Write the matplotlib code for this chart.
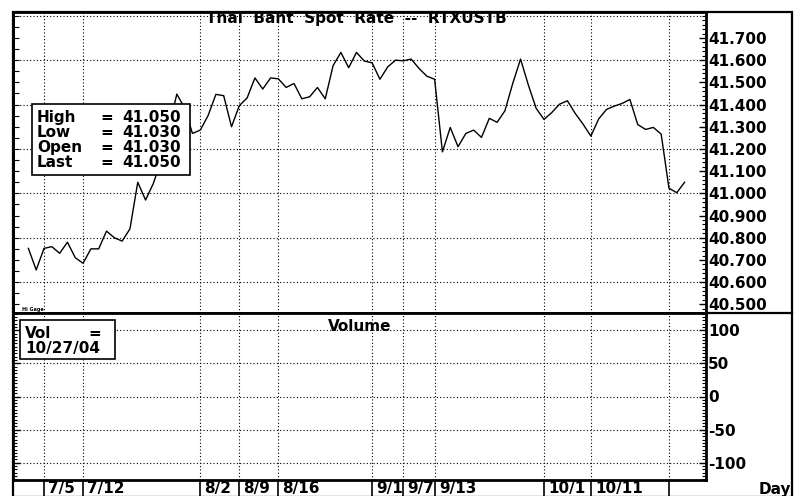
import matplotlib
matplotlib.use("Agg")
import matplotlib.pyplot as plt
import matplotlib.patches as mpatches
import matplotlib.lines as mlines
from matplotlib.ticker import MultipleLocator, FixedLocator
from matplotlib.transforms import ScaledTranslation
import numpy as np
import pandas as pd

plt.rcParams['font.family'] = ['DejaVu Sans']
plt.rcParams['axes.unicode_minus'] = False

# ---------------- data ----------------
start_date = "2004-07-01"
end_date = "2004-10-27"
prices = [40.752, 40.655, 40.752, 40.760, 40.730, 40.780, 40.710, 40.685, 40.750, 40.750,
          40.830, 40.800, 40.785, 40.840, 41.050, 40.970, 41.045, 41.150, 41.300, 41.447,
          41.385, 41.270, 41.285, 41.350, 41.446, 41.440, 41.300, 41.395, 41.430, 41.520,
          41.470, 41.520, 41.516, 41.477, 41.495, 41.426, 41.435, 41.477, 41.426, 41.575,
          41.635, 41.566, 41.635, 41.596, 41.588, 41.514, 41.570, 41.600, 41.597, 41.605,
          41.563, 41.528, 41.514, 41.187, 41.297, 41.210, 41.270, 41.285, 41.252, 41.338,
          41.320, 41.372, 41.495, 41.605, 41.488, 41.383, 41.333, 41.364, 41.402, 41.417,
          41.360, 41.312, 41.258, 41.335, 41.378, 41.393, 41.405, 41.423, 41.310, 41.288,
          41.297, 41.267, 41.023, 41.003, 41.050]
tick_dates = ["2004-07-05", "2004-07-12", "2004-08-02", "2004-08-09", "2004-08-16",
              "2004-09-01", "2004-09-07", "2004-09-13", "2004-10-01", "2004-10-11", "2004-10-25"]
tick_labels = ["7/5", "7/12", "8/2", "8/9", "8/16", "9/1", "9/7", "9/13", "10/1", "10/11", ""]
price_labels = [40.5, 40.6, 40.7, 40.8, 40.9, 41.0, 41.1, 41.2, 41.3, 41.4, 41.5, 41.6, 41.7]
price_grid = [40.6, 40.8, 41.0, 41.2, 41.4, 41.6, 41.8]
vol_ticks = [-100, -50, 0, 50, 100]
info_names = ["High", "Low", "Open", "Last"]
info_values = ["41.050", "41.030", "41.030", "41.050"]
title = "Thai  Baht  Spot  Rate  --  RTXUSTB"

days = pd.bdate_range(start_date, end_date)
x = np.arange(len(days))
tick_pos = [days.get_loc(pd.Timestamp(d)) for d in tick_dates]

# ---------------- layout ----------------
W, H = 798, 496
fig = plt.figure(figsize=(W / 100, H / 100), dpi=100)
fig.patch.set_facecolor("white")

def fx(px):
    return px / W

def fy(py):
    return 1 - py / H

def rect(l, t, r, b):
    return [l / W, 1 - b / H, (r - l) / W, (b - t) / H]

ax1 = fig.add_axes(rect(13, 12, 706, 313))
ax2 = fig.add_axes(rect(13, 313, 706, 480))

xlim = (-1.97, 86.74)
grid_kw = dict(color="black", linestyle=(0, (1, 2)), linewidth=0.8)
fs = 11

# price panel
ax1.plot(x, prices, color="black", linewidth=1.0, zorder=3)
ax1.set_xlim(*xlim)
ax1.set_ylim(40.461, 41.817)
ax1.hlines(price_grid, xlim[0], xlim[1], **grid_kw, zorder=1)
ax1.set_xticks(tick_pos)
ax1.grid(True, axis="x", **grid_kw)
ax1.tick_params(axis="x", length=0, labelbottom=False)
ax1.yaxis.tick_right()
ax1.yaxis.set_major_locator(FixedLocator(price_labels))
ax1.yaxis.set_minor_locator(MultipleLocator(0.02))
ax1.set_yticklabels([f"{v:.3f}" for v in price_labels], fontsize=fs, fontweight="bold")
ax1.tick_params(axis="y", which="major", direction="in", length=5, width=1, pad=1.5)
ax1.tick_params(axis="y", which="minor", direction="in", length=3, width=0.8)
sec = ax1.secondary_yaxis("left")
sec.yaxis.set_major_locator(MultipleLocator(0.05))
sec.tick_params(direction="in", length=4, width=0.8, labelleft=False)
sec.spines["left"].set_linewidth(2)
for sp in ax1.spines.values():
    sp.set_linewidth(2)

# volume panel
ax2.set_xlim(*xlim)
ax2.set_ylim(-126, 126)
ax2.set_xticks(tick_pos, tick_labels)
ax2.grid(True, axis="both", which="major", **grid_kw)
ax2.yaxis.set_major_locator(FixedLocator(vol_ticks))
ax2.yaxis.set_minor_locator(MultipleLocator(5))
ax2.set_yticklabels([str(v) for v in vol_ticks], fontsize=fs, fontweight="bold")
ax2.tick_params(axis="y", which="major", direction="in", length=5, width=1, pad=1.5,
                left=True, right=True, labelleft=False, labelright=True)
ax2.tick_params(axis="y", which="minor", direction="in", length=3, width=0.8,
                left=True, right=True)
ax2.tick_params(axis="x", direction="out", length=12, width=1.2, pad=-11)
offset = ScaledTranslation(3 / 72, 0, fig.dpi_scale_trans)
for lbl in ax2.get_xticklabels():
    lbl.set_horizontalalignment("left")
    lbl.set_fontweight("bold")
    lbl.set_fontsize(fs)
    lbl.set_transform(lbl.get_transform() + offset)
for sp in ax2.spines.values():
    sp.set_linewidth(2)

# outer frame
fig.add_artist(mpatches.Rectangle((fx(13), fy(497)), (792 - 13) / W, (497 - 12) / H,
                                  transform=fig.transFigure, fill=False, lw=1.6,
                                  edgecolor="black"))
fig.add_artist(mlines.Line2D([fx(706), fx(792)], [fy(313), fy(313)],
                             transform=fig.transFigure, color="black", lw=1.6))

# texts
fig.text(fx(356.5), fy(23), title, ha="center", va="baseline", fontsize=fs,
         fontweight="bold")
fig.text(fx(360), fy(331), "Volume", ha="center", va="baseline", fontsize=fs,
         fontweight="bold")
fig.text(fx(775), fy(494), "Day", ha="center", va="baseline", fontsize=fs,
         fontweight="bold")
fig.text(fx(22), fy(311), "Hi Gage", ha="left", va="baseline", fontsize=3.5,
         fontweight="bold")

# info box
fig.add_artist(mpatches.Rectangle((fx(32), fy(175)), (190 - 32) / W, (175 - 104) / H,
                                  transform=fig.transFigure, facecolor="white",
                                  edgecolor="black", lw=1.2, zorder=5))
for i, (n, v) in enumerate(zip(info_names, info_values)):
    yb = fy(122 + i * 15)
    fig.text(fx(37), yb, n, ha="left", va="baseline", fontsize=fs, fontweight="bold", zorder=6)
    fig.text(fx(100), yb, "=", ha="left", va="baseline", fontsize=fs, fontweight="bold", zorder=6)
    fig.text(fx(122), yb, v, ha="left", va="baseline", fontsize=fs, fontweight="bold", zorder=6)

# volume box
fig.add_artist(mpatches.Rectangle((fx(20), fy(359)), (115 - 20) / W, (359 - 320) / H,
                                  transform=fig.transFigure, facecolor="white",
                                  edgecolor="black", lw=1.2, zorder=5))
fig.text(fx(25), fy(338), "Vol", ha="left", va="baseline", fontsize=fs, fontweight="bold", zorder=6)
fig.text(fx(88), fy(338), "=", ha="left", va="baseline", fontsize=fs, fontweight="bold", zorder=6)
fig.text(fx(25), fy(353), days[-1].strftime("%m/%d/%y"), ha="left", va="baseline",
         fontsize=fs, fontweight="bold", zorder=6)

fig.savefig("out.png", dpi=100)
